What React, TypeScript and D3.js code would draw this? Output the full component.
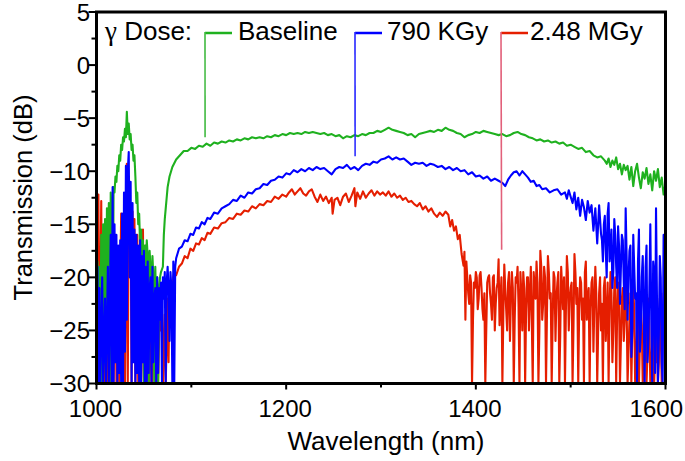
import * as d3 from "d3";

// Transmission spectra (wavelength nm, dB)
const baseline: [number, number][] = [
  [1000, -30], [1001, -18.5], [1002, -30], [1003, -19], [1004, -30], [1005, -16], [1006, -30], [1007, -15],
  [1008, -28], [1009, -14.5], [1010, -30], [1011, -13.5], [1012, -25], [1013, -13], [1014, -30], [1015, -12],
  [1016, -14], [1017, -30], [1018, -11.5], [1019, -12], [1020, -10.5], [1021, -11], [1022, -9.5], [1023, -10],
  [1024, -8.5], [1025, -9], [1026, -7.5], [1027, -8], [1028, -6.8], [1029, -7.2], [1030, -6.0], [1031, -6.8],
  [1032, -4.4], [1033, -6.5], [1034, -5.5], [1035, -7], [1036, -6.5], [1037, -8], [1038, -7.5], [1039, -9],
  [1040, -8.5], [1041, -10.5], [1042, -13], [1043, -12], [1044, -15], [1045, -14], [1046, -17], [1047, -15.5],
  [1048, -18], [1049, -16.5], [1050, -30], [1051, -17], [1052, -19], [1053, -16.5], [1054, -18], [1055, -30],
  [1056, -17.5], [1057, -19], [1058, -25], [1059, -18], [1060, -20], [1061, -30], [1062, -19], [1063, -23],
  [1064, -20], [1065, -30], [1066, -21], [1067, -20], [1068, -19.5], [1070, -19], [1071, -16], [1072, -14.5],
  [1073, -13.5], [1074, -12.5], [1075, -11.5], [1077, -10.5], [1080, -9.6], [1084, -8.9], [1088, -8.5], [1092, -8.1],
  [1096, -8.1], [1100, -7.8], [1104, -7.9], [1108, -7.6], [1112, -7.7], [1116, -7.4], [1120, -7.6], [1124, -7.3],
  [1128, -7.4], [1132, -7.2], [1136, -7.3], [1140, -7.1], [1144, -7.2], [1148, -7.0], [1152, -7.1], [1156, -6.9],
  [1160, -7.0], [1164, -6.8], [1168, -6.9], [1172, -6.8], [1176, -6.9], [1180, -6.7], [1184, -6.8], [1188, -6.6],
  [1192, -6.7], [1196, -6.5], [1200, -6.6], [1204, -6.4], [1208, -6.5], [1212, -6.4], [1216, -6.5], [1220, -6.3],
  [1224, -6.4], [1228, -6.3], [1232, -6.4], [1236, -6.5], [1240, -6.4], [1244, -6.6], [1248, -6.5], [1252, -6.7],
  [1256, -6.6], [1260, -6.9], [1264, -6.7], [1268, -6.8], [1272, -6.6], [1276, -6.7], [1280, -6.5], [1284, -6.6],
  [1288, -6.4], [1292, -6.4], [1296, -6.2], [1300, -6.3], [1304, -6.1], [1308, -5.9], [1312, -6.1], [1316, -6.2],
  [1320, -6.3], [1324, -6.4], [1328, -6.6], [1332, -6.5], [1336, -6.8], [1340, -6.5], [1344, -6.4], [1348, -6.3],
  [1352, -6.2], [1356, -6.3], [1360, -6.1], [1364, -6.2], [1368, -5.9], [1372, -6.1], [1376, -6.2], [1380, -6.4],
  [1384, -6.5], [1388, -6.8], [1392, -6.6], [1396, -6.5], [1400, -6.3], [1404, -6.4], [1408, -6.2], [1412, -6.3],
  [1416, -6.4], [1420, -6.5], [1424, -6.6], [1428, -6.5], [1432, -6.7], [1436, -6.6], [1440, -6.4], [1444, -6.3],
  [1448, -6.5], [1452, -6.6], [1456, -6.8], [1460, -6.9], [1464, -7.1], [1468, -7.0], [1472, -7.2], [1476, -7.1],
  [1480, -7.3], [1484, -7.2], [1488, -7.4], [1492, -7.3], [1496, -7.6], [1500, -7.5], [1504, -7.7], [1508, -7.9],
  [1512, -7.8], [1516, -8.2], [1520, -8.1], [1524, -8.5], [1528, -8.7], [1532, -8.6], [1536, -9.0], [1538, -9.3],
  [1540, -8.8], [1542, -9.6], [1544, -9.0], [1546, -9.4], [1548, -8.7], [1550, -9.8], [1552, -9.3], [1554, -10.3],
  [1556, -9.4], [1558, -9.9], [1560, -9.5], [1562, -10.8], [1564, -9.6], [1566, -11.4], [1568, -10.0], [1570, -9.3],
  [1572, -10.6], [1574, -11.6], [1576, -10.1], [1578, -10.7], [1580, -9.7], [1582, -11.2], [1584, -10.3], [1586, -11.8],
  [1588, -10.0], [1590, -10.9], [1592, -9.8], [1594, -11.5], [1596, -10.6], [1598, -12.2], [1600, -11.2],
];

const dose790: [number, number][] = [
  [1000, -30], [1001, -19], [1002, -30], [1003, -21], [1004, -30], [1006, -20], [1007, -30], [1009, -22],
  [1010, -30], [1012, -19], [1013, -30], [1015, -16], [1016, -30], [1017, -11.5], [1018, -30], [1019, -15],
  [1020, -28], [1021, -16], [1022, -30], [1023, -17], [1024, -29], [1025, -16.5], [1026, -30], [1027, -14],
  [1028, -30], [1029, -12], [1030, -27], [1031, -9.5], [1032, -24], [1033, -10], [1034, -8.2], [1035, -20],
  [1036, -11], [1037, -30], [1038, -13], [1039, -28], [1040, -15.5], [1041, -30], [1042, -16], [1043, -29],
  [1044, -17], [1045, -30], [1046, -16.5], [1047, -30], [1048, -18], [1049, -28], [1050, -17.5], [1051, -30],
  [1052, -19], [1053, -30], [1054, -18.5], [1055, -29], [1056, -21], [1057, -20], [1058, -30], [1059, -19],
  [1060, -28], [1061, -22], [1062, -21], [1063, -30], [1064, -20], [1065, -29], [1066, -21], [1067, -24],
  [1068, -20.5], [1069, -30], [1070, -20], [1071, -22], [1072, -19.5], [1073, -30], [1074, -20.5], [1075, -19],
  [1076, -21], [1077, -26], [1078, -19.5], [1079, -21], [1080, -30], [1081, -18.5], [1082, -30], [1083, -19],
  [1084, -18.2], [1087, -17.3], [1090, -17.1],
  [1093, -16.5], [1096, -16.6], [1099, -15.9], [1102, -16.0], [1105, -15.3], [1108, -15.4], [1111, -14.8], [1114, -15.0],
  [1117, -14.4], [1120, -14.5], [1124, -13.9], [1128, -14.0], [1132, -13.5], [1136, -13.3], [1140, -13.1], [1144, -12.7],
  [1148, -12.8], [1152, -12.3], [1156, -12.5], [1160, -12.0], [1164, -12.1], [1168, -11.7], [1172, -11.6], [1176, -11.2],
  [1180, -11.3], [1184, -10.9], [1188, -10.8], [1192, -10.5], [1196, -10.6], [1200, -10.2], [1204, -10.3], [1208, -9.9],
  [1212, -10.1], [1216, -9.8], [1220, -10.0], [1224, -9.7], [1228, -9.9], [1232, -9.6], [1236, -9.8], [1240, -9.7],
  [1244, -10.0], [1248, -10.3], [1252, -9.8], [1256, -9.6], [1260, -9.7], [1264, -9.4], [1268, -9.8], [1272, -9.6],
  [1276, -9.9], [1280, -9.5], [1284, -9.3], [1288, -9.4], [1292, -9.1], [1296, -9.2], [1300, -8.9], [1304, -8.8],
  [1308, -8.6], [1312, -8.9], [1316, -8.7], [1320, -8.9], [1324, -8.8], [1328, -9.1], [1332, -9.4], [1336, -9.2],
  [1340, -9.3], [1344, -9.2], [1348, -9.5], [1352, -9.3], [1356, -9.4], [1360, -9.6], [1364, -9.5], [1368, -9.8],
  [1372, -9.6], [1376, -9.9], [1380, -9.7], [1384, -10.0], [1388, -9.9], [1392, -10.3], [1396, -10.1], [1400, -10.5],
  [1404, -10.4], [1408, -10.7], [1412, -10.5], [1416, -10.9], [1420, -10.7], [1424, -10.9], [1428, -11.1], [1431, -11.4],
  [1434, -10.8], [1437, -10.4], [1440, -10.1], [1443, -10.0], [1446, -10.4], [1449, -10.0], [1452, -10.3], [1455, -10.6],
  [1458, -11.0], [1461, -10.9], [1464, -11.4], [1467, -11.3], [1470, -11.7], [1474, -11.6], [1478, -12.0], [1482, -11.8],
  [1486, -11.7], [1490, -12.2], [1494, -12.0], [1496, -12.6], [1498, -11.8], [1500, -12.4], [1502, -13.0], [1504, -12.0],
  [1506, -13.6], [1508, -12.5], [1510, -14.2], [1512, -12.7], [1514, -13.4], [1516, -14.6], [1518, -12.8], [1520, -13.9],
  [1522, -13.2], [1524, -15.6], [1526, -13.5], [1528, -16.8], [1530, -13.2], [1532, -15.9], [1534, -18.5], [1536, -14.2],
  [1538, -20.0], [1540, -13.0], [1542, -17.5], [1544, -21.0], [1546, -14.5], [1548, -19.0], [1550, -15.2], [1552, -22.5],
  [1554, -16.0], [1556, -20.5], [1558, -13.5], [1560, -24.0], [1562, -17.5], [1564, -27.5], [1566, -16.0], [1568, -22.0],
  [1570, -30], [1572, -15.5], [1574, -25.0], [1576, -18.0], [1578, -30], [1580, -17.0], [1582, -26.0], [1584, -15.0],
  [1586, -30], [1588, -19.5], [1590, -13.5], [1592, -30], [1594, -18.0], [1596, -28.0], [1598, -16.0], [1600, -22.0],
];

// extra samples between the even ones in the noisy long-wavelength tail
const dose790Tail: [number, number][] = [
  [1531, -14.5], [1533, -16.5], [1535, -15.0], [1537, -17.5], [1539, -14.0], [1541, -18.5], [1543, -15.5], [1545, -19.5],
  [1547, -16.0], [1549, -21.0], [1551, -17.0], [1553, -19.0], [1555, -16.5], [1557, -23.0], [1559, -18.0], [1561, -20.0],
  [1563, -17.0], [1565, -25.0], [1567, -19.0], [1569, -21.5], [1571, -18.5], [1573, -27.0], [1575, -20.0], [1577, -23.5],
  [1579, -19.0], [1581, -28.0], [1583, -21.0], [1585, -24.0], [1587, -18.5], [1589, -29.0], [1591, -22.0], [1593, -25.5],
  [1595, -20.0], [1597, -30], [1599, -21.5],
];

const dose248: [number, number][] = [
  [1000, -30], [1002, -12.2], [1003, -30], [1005, -12.8], [1006, -30], [1008, -17], [1009, -30], [1011, -21],
  [1012, -30], [1014, -14.5], [1015, -30], [1017, -18], [1018, -30], [1020, -16], [1021, -30], [1023, -19],
  [1024, -30], [1026, -14], [1027, -30], [1029, -15.5], [1030, -30], [1032, -9.3], [1033, -30], [1034, -12.5],
  [1035, -18], [1036, -13], [1037, -30], [1038, -13.8], [1039, -25], [1040, -14.5], [1041, -30], [1043, -16],
  [1044, -30], [1046, -18], [1047, -30], [1049, -15.5], [1050, -30], [1052, -17], [1053, -30], [1055, -19.5],
  [1056, -30], [1058, -21.5], [1059, -30], [1061, -20.5], [1062, -30], [1064, -22], [1065, -30], [1067, -21],
  [1068, -25], [1069, -22], [1070, -30], [1072, -23.5], [1073, -30], [1075, -22], [1076, -28], [1077, -21],
  [1078, -24], [1079, -20.5], [1080, -22], [1081, -20], [1082, -19.5], [1084, -19.8], [1087, -19.0], [1090, -18.7],
  [1093, -18.0], [1096, -18.2], [1099, -17.3], [1102, -17.5], [1105, -16.8], [1108, -16.9], [1111, -16.3], [1114, -16.5],
  [1117, -15.8], [1120, -15.9], [1124, -15.3], [1128, -15.4], [1132, -14.9], [1136, -14.8], [1140, -14.4], [1144, -14.5],
  [1148, -14.0], [1152, -14.1], [1156, -13.7], [1160, -13.8], [1164, -13.3], [1168, -13.5], [1172, -13.1], [1176, -13.2],
  [1180, -12.8], [1184, -12.9], [1188, -12.4], [1192, -12.6], [1196, -12.2], [1200, -12.4], [1203, -12.0], [1206, -11.7],
  [1209, -12.2], [1212, -11.9], [1215, -11.6], [1218, -12.1], [1221, -12.3], [1224, -11.9], [1227, -11.7], [1230, -12.4],
  [1233, -12.9], [1236, -12.2], [1239, -12.8], [1242, -12.4], [1245, -13.0], [1248, -12.5], [1249, -14.0], [1251, -12.7],
  [1254, -12.5], [1257, -13.2], [1260, -12.4], [1263, -12.1], [1266, -12.9], [1269, -12.3], [1272, -11.6], [1273, -13.3],
  [1275, -12.0], [1278, -12.6], [1281, -11.9], [1284, -12.5], [1287, -12.1], [1290, -11.8], [1293, -12.3], [1296, -11.9],
  [1299, -12.2], [1302, -12.0], [1305, -12.3], [1308, -11.9], [1311, -12.4], [1314, -12.1], [1317, -12.5], [1320, -12.3],
  [1323, -12.7], [1326, -12.5], [1329, -12.9], [1332, -12.8], [1335, -13.1], [1338, -13.3], [1341, -13.0], [1344, -13.6],
  [1347, -13.3], [1350, -13.8], [1353, -13.5], [1356, -14.0], [1359, -14.3], [1362, -13.9], [1365, -14.2], [1368, -13.8],
  [1371, -14.1], [1373, -15.2], [1375, -14.6], [1377, -15.6], [1379, -15.2], [1381, -16.4], [1383, -16.0], [1385, -17.8],
  [1387, -18.9], [1388, -17.6], [1389, -24], [1390, -18.5], [1392, -21.5], [1394, -19.8], [1396, -30], [1398, -20.5],
  [1400, -19.5], [1402, -23], [1404, -19.8], [1406, -21], [1408, -24], [1410, -30], [1412, -20.5], [1414, -19.8],
  [1416, -22.5], [1418, -20], [1420, -25], [1422, -21], [1424, -18.3], [1426, -22], [1428, -30], [1430, -18.8],
  [1432, -23], [1434, -20.5], [1436, -26], [1438, -19.5], [1440, -30], [1442, -20], [1444, -19], [1446, -30],
  [1448, -21.5], [1450, -19.5], [1452, -30], [1454, -20], [1456, -25], [1458, -19], [1460, -30], [1462, -21],
  [1464, -18.5], [1466, -30], [1468, -17.5], [1470, -24], [1472, -19], [1474, -30], [1476, -18], [1478, -22],
  [1480, -30], [1482, -19.5], [1484, -26], [1486, -20.5], [1488, -30], [1490, -19], [1492, -23], [1494, -30],
  [1496, -18], [1498, -25], [1500, -21], [1502, -30], [1504, -17.8], [1506, -22.5], [1508, -30], [1510, -20],
  [1512, -24], [1514, -30], [1516, -18.5], [1518, -22], [1520, -30], [1522, -20.5], [1524, -27], [1526, -19],
  [1528, -30], [1530, -21.5], [1532, -25], [1534, -30], [1536, -20], [1538, -23.5], [1540, -30], [1542, -19.5],
  [1544, -28], [1546, -21], [1548, -30], [1550, -20.5], [1552, -30], [1554, -22], [1556, -26], [1558, -19.5],
  [1560, -30], [1562, -24], [1564, -30], [1566, -21], [1568, -30], [1570, -25], [1572, -30], [1574, -23],
  [1576, -30], [1578, -27], [1580, -30], [1582, -22], [1584, -30], [1586, -26], [1588, -30], [1590, -28],
  [1592, -30], [1594, -22], [1596, -30], [1598, -21.5], [1600, -23],
];

const dose248Tail: [number, number][] = [
  [1391, -20], [1393, -22.5], [1395, -20.5], [1397, -24], [1399, -21], [1401, -20], [1403, -22], [1405, -19.5],
  [1407, -23], [1409, -21.5], [1411, -25], [1413, -20], [1415, -21.5], [1417, -24], [1419, -19.8], [1421, -22.5],
  [1423, -20.5], [1425, -24.5], [1427, -20], [1429, -23.5], [1431, -21], [1433, -25], [1435, -19.5], [1437, -22],
  [1439, -21], [1441, -24], [1443, -20.5], [1445, -22.5], [1447, -19.5], [1449, -25], [1451, -21], [1453, -23],
  [1455, -20], [1457, -21.5], [1459, -24], [1461, -19.5], [1463, -22], [1465, -20.5], [1467, -25], [1469, -19],
  [1471, -22.5], [1473, -20], [1475, -23.5], [1477, -19.5], [1479, -21.5], [1481, -24], [1483, -20], [1485, -22],
  [1487, -19.5], [1489, -25.5], [1491, -21], [1493, -20], [1495, -23], [1497, -19.5], [1499, -22], [1501, -20.5],
  [1503, -24.5], [1505, -19.5], [1507, -21], [1509, -23], [1511, -20.5], [1513, -22], [1515, -19.5], [1517, -24],
  [1519, -21], [1521, -23], [1523, -20], [1525, -22.5], [1527, -21.5], [1529, -25], [1531, -20], [1533, -22.5],
  [1535, -21], [1537, -26], [1539, -20.5], [1541, -23], [1543, -21.5], [1545, -25], [1547, -20], [1549, -23.5],
  [1551, -22], [1553, -26], [1555, -21], [1557, -24], [1559, -22.5], [1561, -27], [1563, -21.5], [1565, -25],
  [1567, -23], [1569, -28], [1571, -22], [1573, -26], [1575, -24.5], [1577, -28.5], [1579, -23], [1581, -27],
  [1583, -25], [1585, -29], [1587, -24], [1589, -27.5], [1591, -23], [1593, -28], [1595, -24.5], [1597, -26],
  [1599, -22.5],
];

const seriesNames = ["Baseline", "790 KGy", "2.48 MGy"];
// where each legend leader line ends, in data units
const leaderEnds: [number, number][] = [[1114.5, -6.8], [1272.7, -8.6], [1427.2, -17.4]];

const xTicks = [1000, 1200, 1400, 1600];
const xMinorTicks = [1100, 1300, 1500];
const yTicks = [5, 0, -5, -10, -15, -20, -25, -30];
const yMinorTicks = [2.5, -2.5, -7.5, -12.5, -17.5, -22.5, -27.5];

const colors = ["#1fb11f", "#0000ff", "#e51e00"];
const leaderColors = ["#44bb44", "#2a2aff", "#e2607a"];

export default function App() {
  const width = 685;
  const height = 461;
  const x = d3.scaleLinear().domain([1000, 1600]).range([96.5, 665.5]);
  const y = d3.scaleLinear().domain([-30, 5]).range([383.5, 12]);
  const font = "'Liberation Sans', Arial, Helvetica, sans-serif";

  const line = d3.line<[number, number]>()
    .x(d => x(d[0]))
    .y(d => y(d[1]));

  const data = [
    baseline,
    d3.sort([...dose790, ...dose790Tail], d => d[0]),
    d3.sort([...dose248, ...dose248Tail], d => d[0]),
  ];
  const drawOrder = [2, 0, 1]; // red under green under blue
  const fmt = d3.format("d");

  // legend layout
  const legendLineX = [205, 355, 501];
  const legendTextX = [238, 387, 530];
  const legendY = 33;

  return (
    <svg width={width} height={height} style={{ position: "absolute", left: 0, top: 0, background: "#fff" }}>
      <defs>
        <clipPath id="plot">
          <rect x={x(1000)} y={y(5)} width={x(1600) - x(1000)} height={y(-30) - y(5)} />
        </clipPath>
      </defs>

      <g clipPath="url(#plot)">
        {drawOrder.map(i => (
          <path key={i} d={line(data[i]) ?? ""} fill="none" stroke={colors[i]} strokeWidth={2.1} strokeLinejoin="round" />
        ))}
      </g>

      {/* legend */}
      <text x={105} y={40} fontFamily={font} fontSize={26} fill="#000">
        <tspan fontFamily="'Liberation Serif', 'DejaVu Serif', serif" fontSize={27}>γ</tspan> Dose:
      </text>
      {seriesNames.map((name, i) => (
        <g key={name}>
          <line x1={legendLineX[i]} x2={legendLineX[i] + 27} y1={legendY} y2={legendY} stroke={colors[i]} strokeWidth={2.5} />
          <line x1={legendLineX[i]} x2={x(leaderEnds[i][0])} y1={legendY - 1} y2={y(leaderEnds[i][1])}
            stroke={leaderColors[i]} strokeWidth={1.6} />
          <text x={legendTextX[i]} y={40} fontFamily={font} fontSize={26} fill="#000">{name}</text>
        </g>
      ))}

      {/* frame */}
      <rect x={x(1000)} y={y(5)} width={x(1600) - x(1000)} height={y(-30) - y(5)}
        fill="none" stroke="#000" strokeWidth={3} />

      {/* y ticks */}
      {yTicks.map(t => (
        <g key={t}>
          <line x1={x(1000) - 8} x2={x(1000)} y1={y(t)} y2={y(t)} stroke="#000" strokeWidth={2} />
          <text x={90} y={y(t)} dy="0.36em" textAnchor="end" fontFamily={font} fontSize={24}>{fmt(t)}</text>
        </g>
      ))}
      {yMinorTicks.map(t => (
        <line key={t} x1={x(1000) - 5} x2={x(1000)} y1={y(t)} y2={y(t)} stroke="#000" strokeWidth={2} />
      ))}

      {/* x ticks */}
      {xTicks.map(t => {
        const last = x(t) + 28 > width - 1;
        return (
          <g key={t}>
            <line x1={x(t)} x2={x(t)} y1={y(-30)} y2={y(-30) + 6} stroke="#000" strokeWidth={2} />
            <text x={last ? width - 2 : x(t) - 1} y={417} textAnchor={last ? "end" : "middle"}
              fontFamily={font} fontSize={24}>{fmt(t)}</text>
          </g>
        );
      })}
      {xMinorTicks.map(t => (
        <line key={t} x1={x(t)} x2={x(t)} y1={y(-30)} y2={y(-30) + 4} stroke="#000" strokeWidth={2} />
      ))}

      {/* axis titles */}
      <text x={386} y={450} textAnchor="middle" fontFamily={font} fontSize={26}>Wavelength (nm)</text>
      <text transform="translate(32,197.5) rotate(-90)" textAnchor="middle" fontFamily={font} fontSize={25.5}>
        Transmission (dB)
      </text>
    </svg>
  );
}
